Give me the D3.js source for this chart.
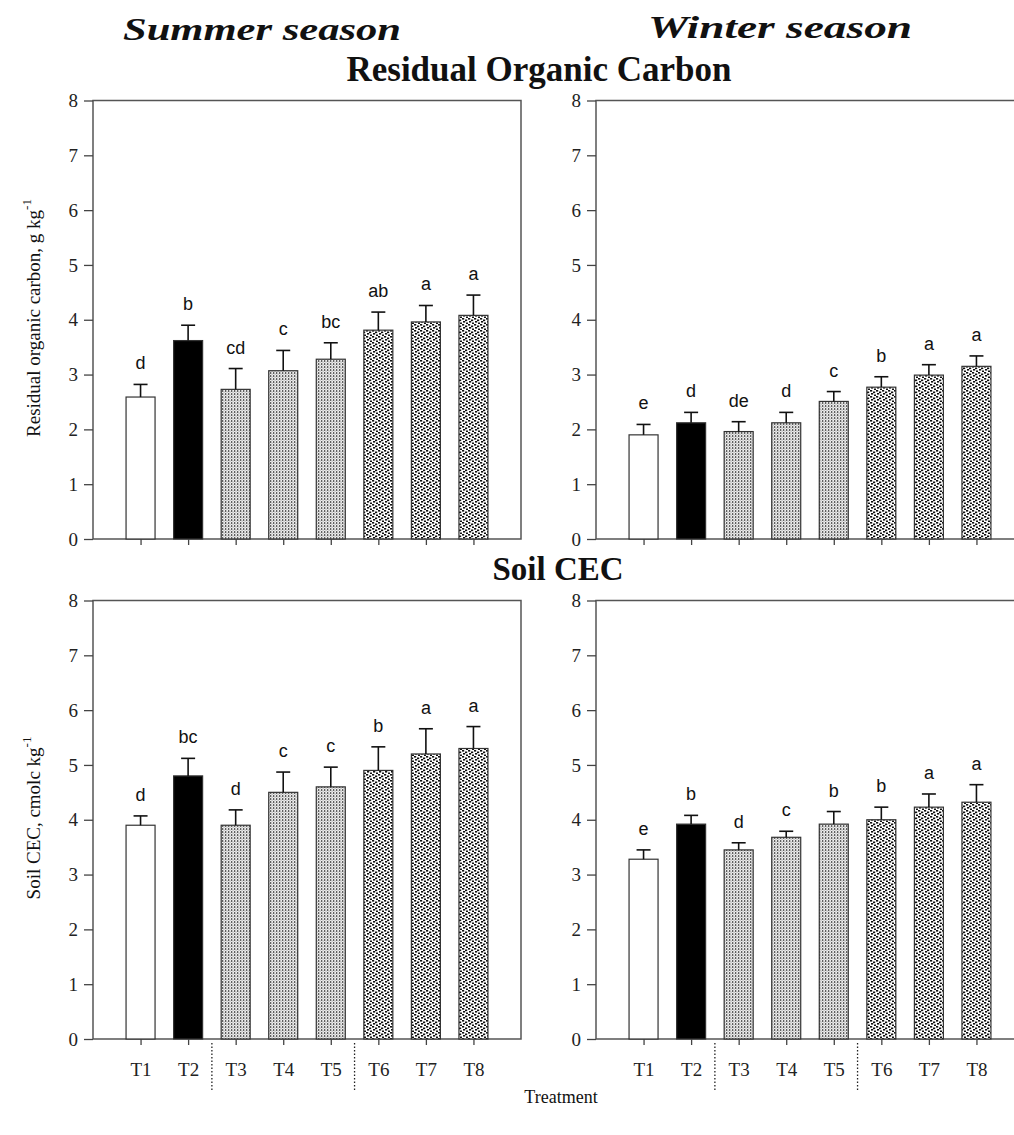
<!DOCTYPE html>
<html>
  <head>
    <style>
      body { margin: 0; background: #fff; }
      .tick text { font-family: "Liberation Serif", "Times New Roman", serif; font-size: 19px; fill: #222; }
      .letter { font-family: "Liberation Sans", Arial, sans-serif; font-size: 18px; fill: #111; }
      .serif { font-family: "Liberation Serif", "Times New Roman", serif; fill: #111; }
    </style>
    <script src="https://d3js.org/d3.v7.min.js"></script>
  </head>
  <body>
    <svg id="chart" width="1014" height="1135"></svg>

    <script>
      var categories = ["T1", "T2", "T3", "T4", "T5", "T6", "T7", "T8"];
      var yTicks = [0, 1, 2, 3, 4, 5, 6, 7, 8];

      // Residual organic carbon, g/kg
      var summerROC = [2.59, 3.62, 2.73, 3.07, 3.28, 3.81, 3.96, 4.08];
      var summerROCErr = [0.23, 0.28, 0.38, 0.37, 0.30, 0.33, 0.30, 0.37];
      var summerROCLetters = ["d", "b", "cd", "c", "bc", "ab", "a", "a"];
      var winterROC = [1.90, 2.12, 1.96, 2.12, 2.51, 2.77, 2.99, 3.15];
      var winterROCErr = [0.19, 0.19, 0.18, 0.19, 0.18, 0.19, 0.19, 0.19];
      var winterROCLetters = ["e", "d", "de", "d", "c", "b", "a", "a"];

      // Soil CEC, cmolc/kg
      var summerCEC = [3.90, 4.80, 3.90, 4.50, 4.60, 4.90, 5.20, 5.30];
      var summerCECErr = [0.17, 0.32, 0.28, 0.37, 0.36, 0.43, 0.46, 0.40];
      var summerCECLetters = ["d", "bc", "d", "c", "c", "b", "a", "a"];
      var winterCEC = [3.28, 3.92, 3.45, 3.68, 3.92, 4.00, 4.23, 4.32];
      var winterCECErr = [0.17, 0.16, 0.13, 0.11, 0.23, 0.23, 0.24, 0.32];
      var winterCECLetters = ["e", "b", "d", "c", "b", "b", "a", "a"];

      var svg = d3.select("#chart");
      var panelW = 428, panelH = 438.5;

      // fill patterns
      var defs = svg.append("defs");
      var fine = defs.append("pattern").attr("id", "fine")
        .attr("patternUnits", "userSpaceOnUse").attr("width", 3).attr("height", 3);
      fine.append("rect").attr("width", 3).attr("height", 3).attr("fill", "#eeeeee");
      fine.append("rect").attr("x", 0).attr("y", 0).attr("width", 1.3).attr("height", 2).attr("fill", "#5f5f5f");
      fine.append("rect").attr("x", 1.6).attr("y", 1.6).attr("width", 1).attr("height", 1).attr("fill", "#8a8a8a");

      var coarse = defs.append("pattern").attr("id", "coarse")
        .attr("patternUnits", "userSpaceOnUse").attr("width", 6).attr("height", 6);
      coarse.append("rect").attr("width", 6).attr("height", 6).attr("fill", "#fff");
      [[0, 0], [3, 1.5], [1, 3], [4, 4.5]].forEach(function(p) {
        coarse.append("rect").attr("x", p[0]).attr("y", p[1])
          .attr("width", 2.2).attr("height", 1.6).attr("fill", "#111");
      });

      var fills = ["#fff", "#000", "url(#fine)", "url(#fine)", "url(#fine)",
                   "url(#coarse)", "url(#coarse)", "url(#coarse)"];

      function drawPanel(x0, y0, values, errs, letters, showX) {
        var x = d3.scaleLinear().domain([0, 9]).range([x0, x0 + panelW]);
        var y = d3.scaleLinear().domain([0, 8]).range([y0 + panelH, y0]);
        var g = svg.append("g");
        var barW = 29;

        // frame
        g.append("rect")
          .attr("x", x0).attr("y", y0)
          .attr("width", panelW).attr("height", panelH)
          .attr("fill", "none").attr("stroke", "#555").attr("stroke-width", 1.5);

        // bars
        values.forEach(function(v, i) {
          var cx = x(i + 1);
          g.append("rect")
            .attr("x", cx - barW / 2).attr("y", y(v))
            .attr("width", barW).attr("height", y(0) - y(v))
            .attr("fill", fills[i])
            .attr("stroke", "#333").attr("stroke-width", 1.2);
          var top = y(v + errs[i]);
          g.append("line").attr("x1", cx).attr("x2", cx)
            .attr("y1", y(v)).attr("y2", top)
            .attr("stroke", "#111").attr("stroke-width", 1.6);
          g.append("line").attr("x1", cx - 7).attr("x2", cx + 7)
            .attr("y1", top).attr("y2", top)
            .attr("stroke", "#111").attr("stroke-width", 1.6);
          g.append("text").attr("class", "letter")
            .attr("x", cx).attr("y", top - 15)
            .attr("text-anchor", "middle")
            .text(letters[i]);
        });

        // y axis
        var ya = g.append("g")
          .attr("transform", "translate(" + x0 + ",0)")
          .call(d3.axisLeft(y).tickValues(yTicks).tickSize(9).tickPadding(6).tickFormat(d3.format("d")));
        ya.select(".domain").remove();
        ya.selectAll(".tick line").attr("stroke", "#444").attr("stroke-width", 1.3);
        ya.selectAll(".tick text").attr("fill", "#222");

        // x axis
        var xa = g.append("g")
          .attr("transform", "translate(0," + (y0 + panelH) + ")")
          .call(d3.axisBottom(x).tickValues(d3.range(1, 9)).tickSize(6).tickPadding(18)
            .tickFormat(function(d) { return showX ? categories[d - 1] : ""; }));
        xa.select(".domain").remove();
        xa.selectAll(".tick line").attr("stroke", "#444").attr("stroke-width", 1.3);
        xa.selectAll(".tick text").attr("fill", "#222").style("font-size", "19px");

        if (showX) {
          [2.5, 5.5].forEach(function(d) {
            g.append("line")
              .attr("x1", x(d)).attr("x2", x(d))
              .attr("y1", y0 + panelH + 4).attr("y2", y0 + panelH + 53)
              .attr("stroke", "#222").attr("stroke-width", 1.3)
              .attr("stroke-dasharray", "1.5,2");
          });
        }
      }

      function yTitle(cx, cy, label) {
        var t = svg.append("text").attr("class", "serif")
          .attr("transform", "translate(" + cx + "," + cy + ") rotate(-90)")
          .attr("text-anchor", "middle")
          .style("font-size", "19px");
        t.append("tspan").text(label);
        t.append("tspan").attr("dy", -9).style("font-size", "13px").text("-1");
      }

      drawPanel(93, 100.5, summerROC, summerROCErr, summerROCLetters, false);
      drawPanel(596, 100.5, winterROC, winterROCErr, winterROCLetters, false);
      drawPanel(93, 600.5, summerCEC, summerCECErr, summerCECLetters, true);
      drawPanel(596, 600.5, winterCEC, winterCECErr, winterCECLetters, true);

      yTitle(40, 318, "Residual organic carbon, g kg");
      yTitle(40, 818, "Soil CEC, cmolc kg");

      // headings
      svg.append("text").attr("class", "serif")
        .attr("x", 123).attr("y", 40)
        .attr("textLength", 278).attr("lengthAdjust", "spacingAndGlyphs")
        .style("font-size", "32px").style("font-style", "italic").style("font-weight", "bold")
        .text("Summer season");
      svg.append("text").attr("class", "serif")
        .attr("x", 648).attr("y", 38)
        .attr("textLength", 264).attr("lengthAdjust", "spacingAndGlyphs")
        .style("font-size", "32px").style("font-style", "italic").style("font-weight", "bold")
        .text("Winter season");

      svg.append("text").attr("class", "serif")
        .attr("x", 539).attr("y", 81).attr("text-anchor", "middle")
        .style("font-size", "35px").style("font-weight", "bold")
        .text("Residual Organic Carbon");
      svg.append("text").attr("class", "serif")
        .attr("x", 558).attr("y", 580).attr("text-anchor", "middle")
        .style("font-size", "33px").style("font-weight", "bold")
        .text("Soil CEC");

      svg.append("text").attr("class", "serif")
        .attr("x", 561).attr("y", 1103).attr("text-anchor", "middle")
        .style("font-size", "18px")
        .text("Treatment");
    </script>
  </body>
</html>
